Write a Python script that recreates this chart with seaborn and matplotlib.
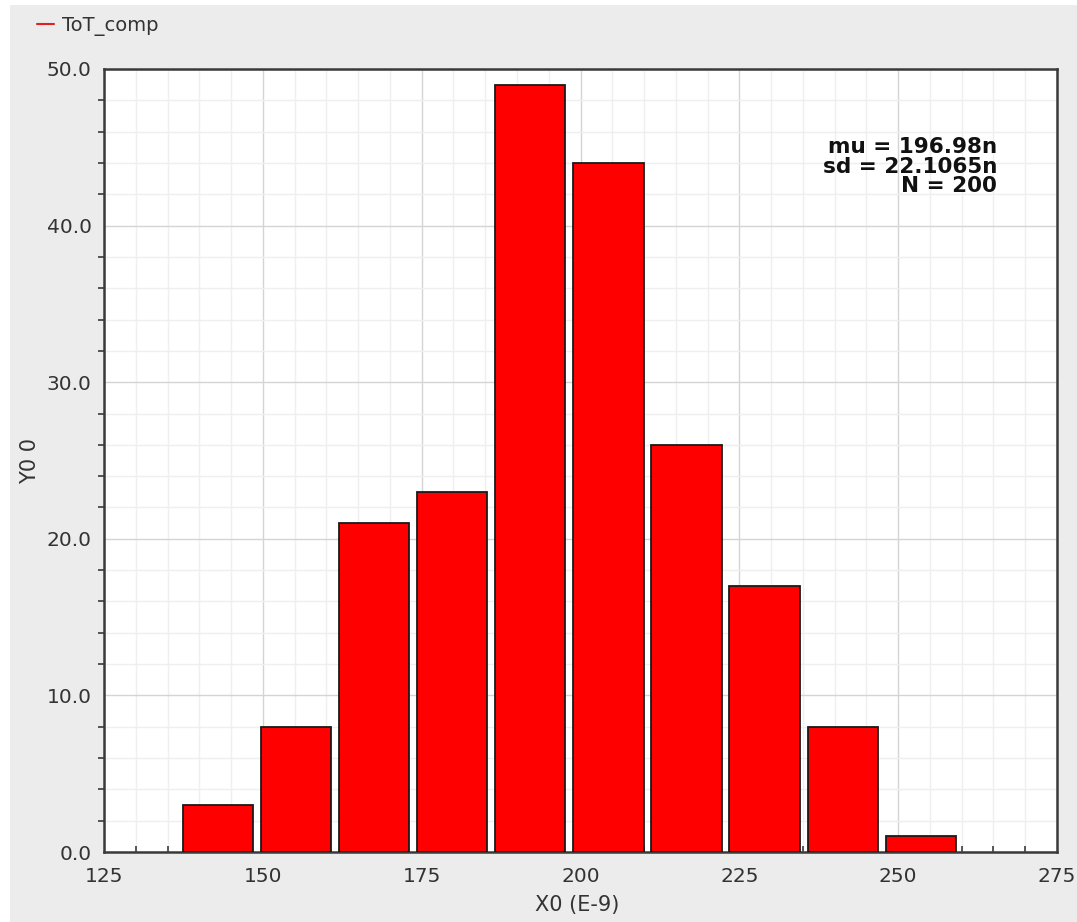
import matplotlib
matplotlib.use("Agg")
import matplotlib.pyplot as plt
import seaborn as sns
import pandas as pd
import numpy as np
from matplotlib.lines import Line2D
from matplotlib.patches import Rectangle
from matplotlib.ticker import MultipleLocator, FormatStrFormatter

# ---- data ----
bin_centers = [142.94, 155.23, 167.52, 179.81, 192.10, 204.39, 216.68, 228.97, 241.26, 253.55]
counts = [3, 8, 21, 23, 49, 44, 26, 17, 8, 1]
series_name = "ToT_comp"
stats_lines = ["mu = 196.98n", "sd = 22.1065n", "N = 200"]
x_label = "X0 (E-9)"
y_label = "Y0 0"
x_ticks = [125, 150, 175, 200, 225, 250, 275]
y_ticks = [0, 10, 20, 30, 40, 50]

df = pd.DataFrame({"x": bin_centers, "count": counts})

sns.set_theme(style="white")
plt.rcParams['font.family'] = ['DejaVu Sans']

W, H = 1077, 922
fig = plt.figure(figsize=(W / 100, H / 100), dpi=100)
fig.patch.set_facecolor("white")
fig.patches.append(Rectangle((10 / W, 0), 1 - 10 / W, 1 - 5 / H, transform=fig.transFigure,
                             facecolor="#ececec", edgecolor="none", zorder=-10))

ax = fig.add_axes([104 / W, 1 - 852 / H, (1057 - 104) / W, (852 - 69) / H])
ax.set_facecolor("white")

sns.barplot(data=df, x="x", y="count", native_scale=True, width=0.9,
            color="#ff0000", saturation=1, edgecolor="#1a1a1a", linewidth=1.3,
            ax=ax, zorder=3)

ax.set_xlim(125, 275)
ax.set_ylim(0, 50)
ax.set_xticks(x_ticks)
ax.set_yticks(y_ticks)
ax.xaxis.set_major_formatter(FormatStrFormatter("%d"))
ax.yaxis.set_major_formatter(FormatStrFormatter("%.1f"))
ax.xaxis.set_minor_locator(MultipleLocator(5))
ax.yaxis.set_minor_locator(MultipleLocator(2))

ax.grid(True, which="major", color="#d4d4d4", linewidth=1.0, zorder=0)
ax.grid(True, which="minor", color="#efefef", linewidth=1.0, zorder=0)
ax.set_axisbelow(True)

for s in ax.spines.values():
    s.set_visible(True)
    s.set_color("#3a3a3a")
    s.set_linewidth(1.8)

ax.tick_params(axis="both", which="major", length=7, width=1.3, color="#3a3a3a",
               labelsize=14.5, labelcolor="#333333", direction="out")
ax.tick_params(axis="y", which="minor", length=4, width=1.2, color="#3a3a3a", direction="out", left=True)
ax.tick_params(axis="x", which="minor", length=4, width=1.2, color="#3a3a3a", direction="in", bottom=True)
ax.tick_params(axis="x", which="major", pad=4)
ax.tick_params(axis="y", which="major", pad=2)

ax.set_xlabel(x_label, fontsize=15, color="#333333", va="center")
ax.set_ylabel(y_label, fontsize=15, color="#333333", va="center")
ax.xaxis.set_label_coords(0.497, -0.0677)
ax.yaxis.set_label_coords(-0.0777, 0.499)

ypos = [0.900, 0.875, 0.851]
for t, yp in zip(stats_lines, ypos):
    ax.text(0.937, yp, t, transform=ax.transAxes, ha="right", va="center",
            fontsize=15.5, fontweight="bold", color="#111111", zorder=5)

handle = Line2D([0], [0], color="#dd2222", linewidth=1.5)
fig.legend([handle], [series_name], loc="center left",
           bbox_to_anchor=(37 / W, 1 - 26 / H), frameon=False, fontsize=14,
           handlelength=0.87, handletextpad=0.4, borderaxespad=0, borderpad=0,
           labelcolor="#333333")

fig.savefig("out.png", dpi=100, facecolor=fig.get_facecolor())
